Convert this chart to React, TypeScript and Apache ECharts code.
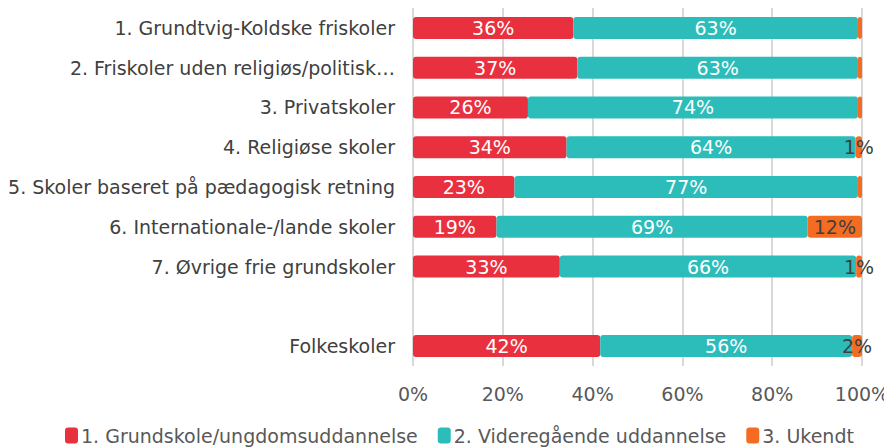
import React, { useEffect, useRef } from "react";
import * as echarts from "echarts";

const categories = [
  "1. Grundtvig-Koldske friskoler",
  "2. Friskoler uden religiøs/politisk…",
  "3. Privatskoler",
  "4. Religiøse skoler",
  "5. Skoler baseret på pædagogisk retning",
  "6. Internationale-/lande skoler",
  "7. Øvrige frie grundskoler",
  "",
  "Folkeskoler",
];
const seriesNames = [
  "1. Grundskole/ungdomsuddannelse",
  "2. Videregående uddannelse",
  "3. Ukendt",
];
const grundskole = [35.7, 36.6, 25.6, 34.2, 22.6, 18.6, 32.7, null, 41.7];
const videregaaende = [63.4, 62.5, 73.5, 64.4, 76.5, 69.3, 66.0, null, 56.1];
const ukendt = [0.9, 0.9, 0.9, 1.4, 0.9, 12.1, 1.3, null, 2.2];
const colors = ["#E8303E", "#2CBDBA", "#F36C21"];

const font = "'DejaVu Sans', Verdana, sans-serif";

export default function App() {
  const ref = useRef<HTMLDivElement>(null);
  useEffect(() => {
    if (!ref.current) return;
    const chart = echarts.init(ref.current, null, { renderer: "svg" });
    const fmt = (p: any) => {
      const v = p.value;
      if (v == null || v < 1) return "";
      return Math.round(v) + "%";
    };
    const datas = [grundskole, videregaaende, ukendt];
    chart.setOption({
      animation: false,
      color: colors,
      grid: { left: 405, right: 30, top: 0, bottom: 82, containLabel: false, outerBoundsMode: "none" },
      legend: {
        top: 413,
        left: 52,
        itemWidth: 13,
        itemHeight: 16,
        itemGap: 20,
        icon: "roundRect",
        textStyle: { fontFamily: font, fontSize: 19, color: "#595959", padding: [0, 0, 0, -2] },
        data: seriesNames,
      },
      xAxis: {
        type: "value",
        min: 0,
        max: 100,
        interval: 20,
        axisLabel: {
          formatter: "{value}%",
          fontFamily: font,
          fontSize: 19,
          color: "#595959",
          margin: 18,
        },
        splitLine: { lineStyle: { color: "#D9D9D9", width: 2 } },
        axisLine: { show: false },
        axisTick: { show: false },
      },
      yAxis: {
        type: "category",
        data: categories,
        inverse: true,
        axisLine: { show: false },
        axisTick: { show: false },
        axisLabel: {
          fontFamily: font,
          fontSize: 19,
          color: "#404040",
          margin: 18,
        },
      },
      series: seriesNames.map((name, i) => ({
        name,
        type: "bar",
        stack: "total",
        data: datas[i],
        barWidth: 22,
        itemStyle: { color: colors[i], borderRadius: 3 },
        label: {
          show: true,
          position: "inside",
          formatter: fmt,
          fontFamily: font,
          fontSize: 19,
          color: i === 2 ? "#404040" : "#FFFFFF",
        },
      })),
    });
    return () => chart.dispose();
  }, []);
  return <div ref={ref} style={{ width: 884, height: 440 }} />;
}
